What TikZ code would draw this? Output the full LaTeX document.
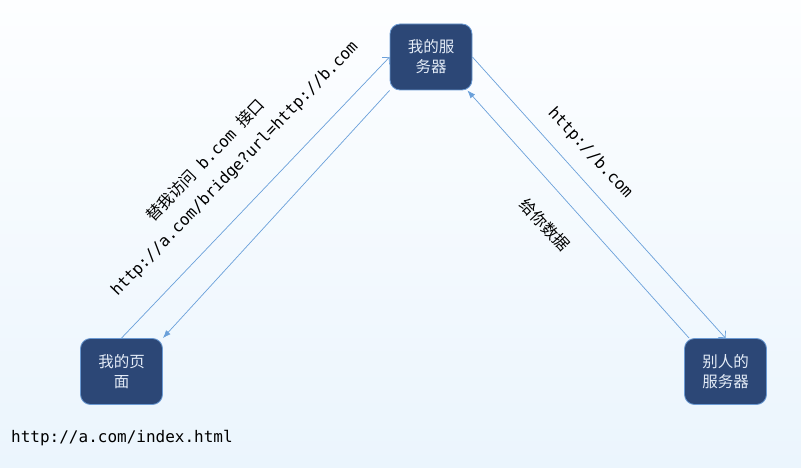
\documentclass[tikz,border=0pt]{standalone}
\usepackage{fontspec}
\setmonofont{DejaVu Sans Mono}
\newfontfamily\cjk{Noto Sans CJK SC}
\usetikzlibrary{arrows.meta,calc}
\definecolor{boxfill}{HTML}{2C4776}
\definecolor{boxline}{HTML}{6B9AD3}
\definecolor{arrowc}{HTML}{6AA0DA}
\definecolor{txtlight}{HTML}{E4ECF7}
\definecolor{bgtop}{HTML}{FDFEFF}
\definecolor{bgbot}{HTML}{EBF5FD}
\begin{document}
\begin{tikzpicture}[x=1pt,y=1pt,
 box/.style={draw=boxline, line width=0.8pt, fill=boxfill, rounded corners=10pt,
   minimum width=82pt, minimum height=66pt, inner sep=0pt, text=txtlight,
   align=center, font=\cjk\fontsize{15.5}{20}\selectfont},
 conn/.style={draw=arrowc, line width=0.7pt},
 openarr/.style={-{Straight Barb[length=5pt,width=10pt]}},
 fillarr/.style={-{Latex[length=8pt,width=6pt]}},
 lbl/.style={inner sep=0pt, font=\ttfamily\fontsize{16}{16}\selectfont},
 clbl/.style={inner sep=0pt, font=\cjk\fontsize{16}{16}\selectfont},
 ]
\shade[top color=bgtop, bottom color=bgbot] (0,0) rectangle (801,467);
\useasboundingbox (0,0) rectangle (801,467);
\node[box] (server) at (431,410) {我的服\\务器};
\node[box] (page) at (121.5,95.5) {我的页\\面};
\node[box] (other) at (725.5,95.5) {别人的\\服务器};
\draw[conn,openarr] (page.north) -- (server.west);
\draw[conn,fillarr] (server.south west) -- (page.north east);
\draw[conn,openarr] (server.east) -- (other.north);
\draw[conn,fillarr] ($(other.north west)+(5,0)$) -- ($(server.south east)+(-5,0)$);
\node[lbl, rotate=46] (url) at (235,298) {http://a.com/bridge?url=http://b.com};
\node[clbl, rotate=46] (ask) at (205,307) {替我访问\hspace{9pt}{\ttfamily b.com}\hspace{9pt}接口};
\node[lbl, rotate=-47] (burl) at (590,314) {http://b.com};
\node[clbl, rotate=-47] (give) at (545,242) {给你数据};
\node[lbl, anchor=west] (index) at (11,29) {http://a.com/index.html};
\end{tikzpicture}
\end{document}
